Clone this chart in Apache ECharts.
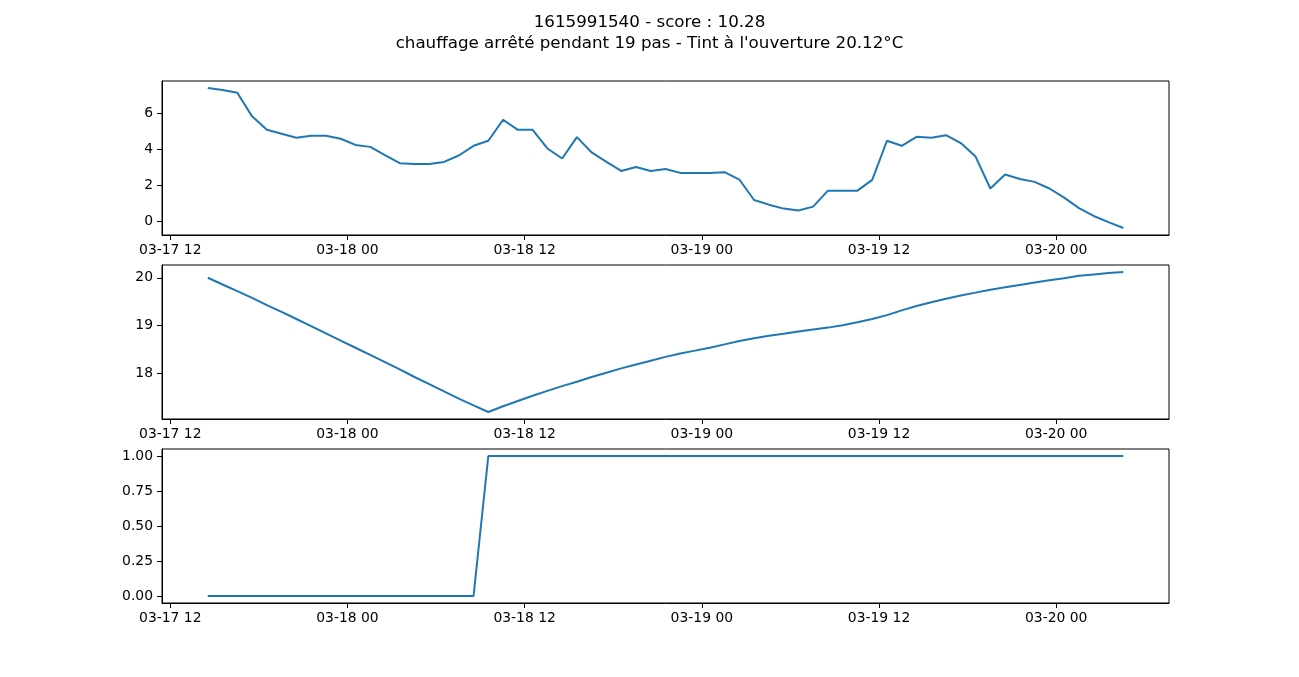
<!DOCTYPE html>
<html>
<head>
<meta charset="utf-8">
<script src="https://cdn.jsdelivr.net/npm/echarts@6/dist/echarts.min.js"></script>
<style>
  html, body { margin: 0; padding: 0; background: #fff; }
  #chart { width: 1299px; height: 677px; }
</style>
</head>
<body>
<div id="chart"></div>
<script>
// hourly samples, starting at the timestamp in the title (UTC)
var startTs = 1615991540 * 1000;
var stepMs = 3600 * 1000;

// top panel: outdoor temperature
var tExt = [7.43, 7.32, 7.17, 5.85, 5.10, 4.88, 4.66, 4.77, 4.77, 4.60,
  4.26, 4.15, 3.69, 3.24, 3.20, 3.20, 3.31, 3.67, 4.21, 4.49,
  5.66, 5.10, 5.10, 4.06, 3.50, 4.69, 3.84, 3.31, 2.81, 3.03,
  2.81, 2.92, 2.70, 2.70, 2.70, 2.74, 2.33, 1.19, 0.93, 0.71,
  0.60, 0.82, 1.71, 1.71, 1.71, 2.31, 4.49, 4.21, 4.71, 4.66,
  4.80, 4.36, 3.61, 1.83, 2.61, 2.36, 2.20, 1.83, 1.32, 0.74,
  0.30, -0.04, -0.37];

// middle panel: indoor temperature
var tInt = [20.00, 19.86, 19.72, 19.58, 19.43, 19.29, 19.14, 18.99, 18.84, 18.69,
  18.54, 18.39, 18.24, 18.09, 17.93, 17.78, 17.63, 17.48, 17.34, 17.20,
  17.32, 17.43, 17.54, 17.64, 17.74, 17.83, 17.93, 18.02, 18.11, 18.19,
  18.27, 18.35, 18.42, 18.48, 18.54, 18.61, 18.68, 18.74, 18.79, 18.83,
  18.88, 18.92, 18.96, 19.01, 19.07, 19.14, 19.22, 19.32, 19.41, 19.49,
  19.56, 19.63, 19.69, 19.75, 19.80, 19.85, 19.90, 19.95, 19.99, 20.04,
  20.07, 20.10, 20.12];

// bottom panel: heating state (0 = off)
var heat = [0, 0, 0, 0, 0, 0, 0, 0, 0, 0,
  0, 0, 0, 0, 0, 0, 0, 0, 0, 1,
  1, 1, 1, 1, 1, 1, 1, 1, 1, 1,
  1, 1, 1, 1, 1, 1, 1, 1, 1, 1,
  1, 1, 1, 1, 1, 1, 1, 1, 1, 1,
  1, 1, 1, 1, 1, 1, 1, 1, 1, 1,
  1, 1, 1];

var xTicks = ["2021-03-17T12:00:00Z", "2021-03-18T00:00:00Z", "2021-03-18T12:00:00Z",
  "2021-03-19T00:00:00Z", "2021-03-19T12:00:00Z", "2021-03-20T00:00:00Z"];
var yTicksExt = [0, 2, 4, 6];
var yTicksInt = [18, 19, 20];
var yTicksHeat = [0, 0.25, 0.5, 0.75, 1];

var titleLines = ["1615991540 - score : 10.28",
  "chauffage arrêté pendant 19 pas - Tint à l'ouverture 20.12°C"];

var times = [];
for (var i = 0; i < tExt.length; i++) times.push(startTs + i * stepMs);

function pairs(vals) {
  var out = [];
  for (var i = 0; i < vals.length; i++) out.push([times[i], vals[i]]);
  return out;
}

// matplotlib style 5% margins
function lim(vals) {
  var lo = Math.min.apply(null, vals), hi = Math.max.apply(null, vals);
  var m = (hi - lo) * 0.05;
  return [lo - m, hi + m];
}

var xl = lim(times);
var tickTs = xTicks.map(function (s) { return Date.parse(s); });

function pad(n) { return (n < 10 ? "0" : "") + n; }
function fmtTime(v) {
  var d = new Date(v);
  return pad(d.getUTCMonth() + 1) + "-" + pad(d.getUTCDate()) + " " + pad(d.getUTCHours());
}

var font = "DejaVu Sans";
var black = "#000";

function xAxis(idx) {
  return {
    type: "value", gridIndex: idx, min: xl[0], max: xl[1],
    axisLine: { show: true, onZero: false, lineStyle: { color: black, width: 1 } },
    axisTick: { show: true, length: 5, lineStyle: { color: black }, customValues: tickTs },
    axisLabel: {
      color: black, fontFamily: font, fontSize: 13.9, margin: 8,
      customValues: tickTs, formatter: fmtTime
    },
    splitLine: { show: false }
  };
}

function yAxis(idx, vals, ticks, dec) {
  var l = lim(vals);
  return {
    type: "value", gridIndex: idx, min: l[0], max: l[1],
    axisLine: { show: true, onZero: false, lineStyle: { color: black, width: 1 } },
    axisTick: { show: true, length: 5, lineStyle: { color: black }, customValues: ticks },
    axisLabel: {
      color: black, fontFamily: font, fontSize: 13.9, margin: 9,
      customValues: ticks,
      formatter: function (v) { return v.toFixed(dec); }
    },
    splitLine: { show: false }
  };
}

function lineSeries(idx, vals) {
  return {
    type: "line", xAxisIndex: idx, yAxisIndex: idx,
    data: pairs(vals), showSymbol: false, symbol: "none",
    lineStyle: { color: "#1f77b4", width: 2 },
    animation: false
  };
}

function titleLine(text, top) {
  return {
    text: text, left: "center", top: top, padding: 0,
    textStyle: { color: black, fontFamily: font, fontSize: 16.7, fontWeight: "normal" }
  };
}

var gridBase = { left: 162, right: 130, height: 154, show: true,
  borderColor: black, borderWidth: 1, backgroundColor: "#fff" };

var option = {
  backgroundColor: "#fff",
  animation: false,
  title: [titleLine(titleLines[0], 14), titleLine(titleLines[1], 35)],
  grid: [
    Object.assign({ top: 81 }, gridBase),
    Object.assign({ top: 265 }, gridBase),
    Object.assign({ top: 449 }, gridBase)
  ],
  xAxis: [xAxis(0), xAxis(1), xAxis(2)],
  yAxis: [
    yAxis(0, tExt, yTicksExt, 0),
    yAxis(1, tInt, yTicksInt, 0),
    yAxis(2, heat, yTicksHeat, 2)
  ],
  series: [lineSeries(0, tExt), lineSeries(1, tInt), lineSeries(2, heat)]
};

var myChart = echarts.init(document.getElementById("chart"));
myChart.setOption(option);
</script>
</body>
</html>
